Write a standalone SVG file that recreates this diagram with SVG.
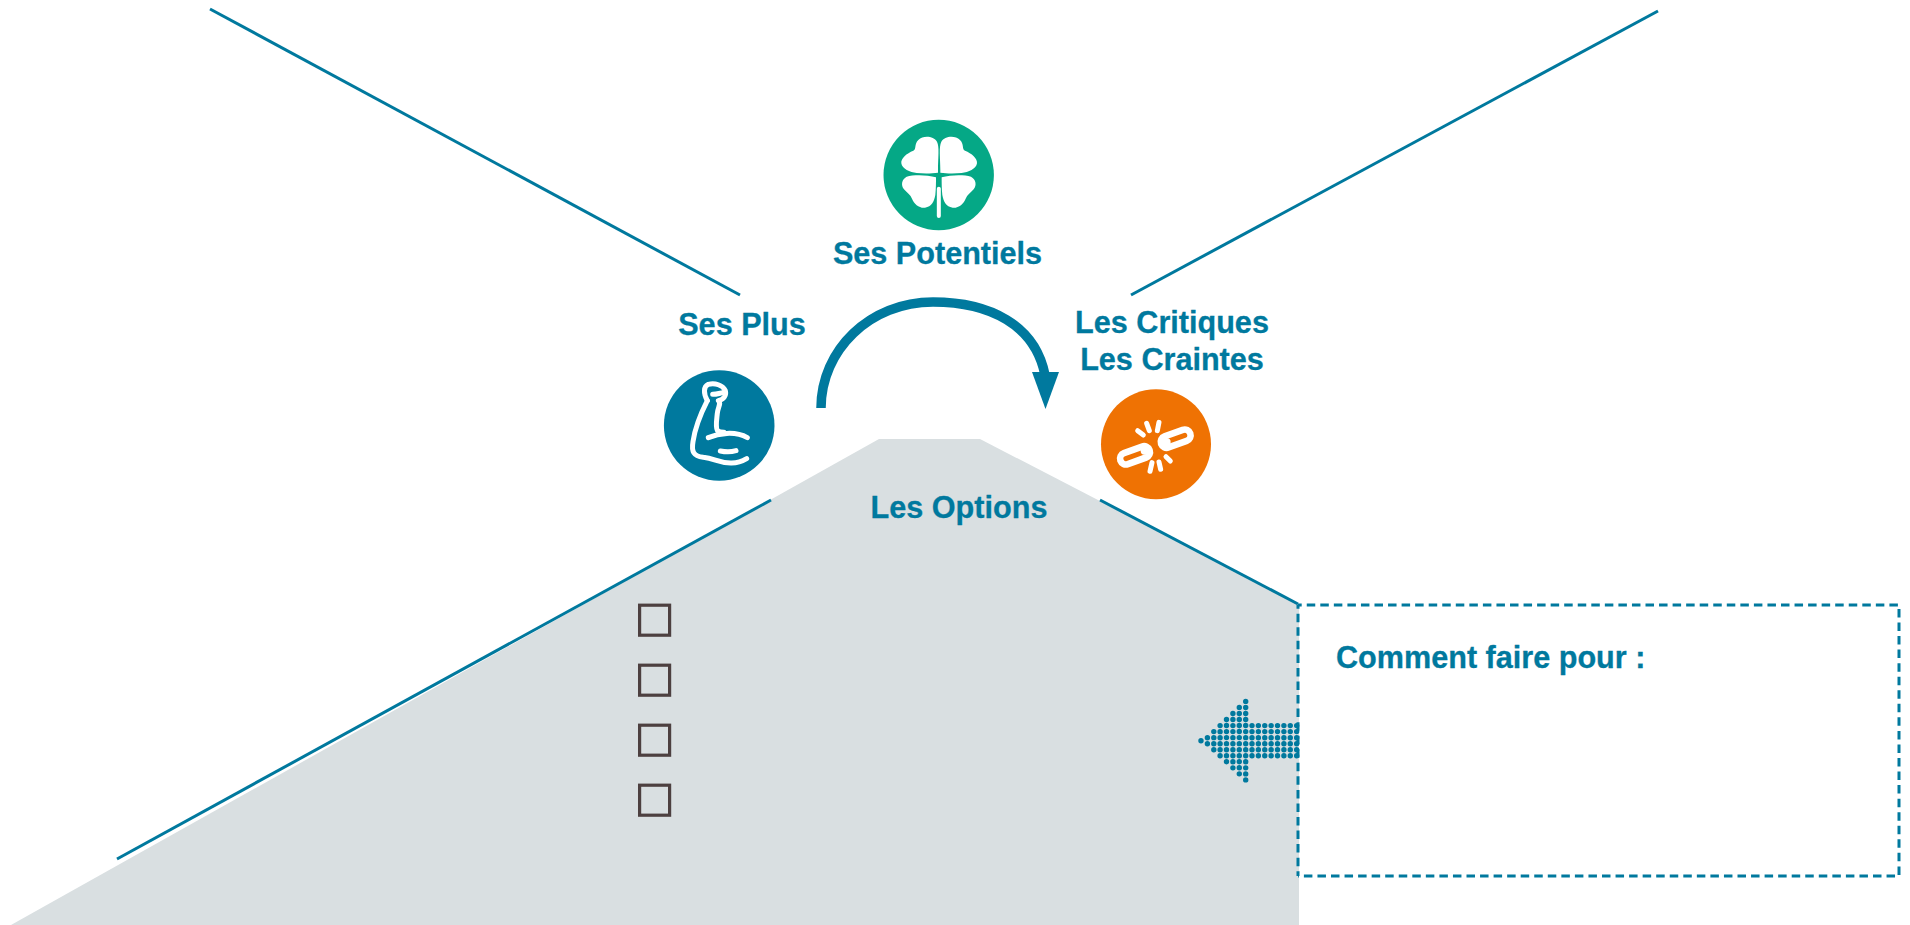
<svg xmlns="http://www.w3.org/2000/svg" width="1910" height="925" viewBox="0 0 1910 925">
<style>
.t{font-family:"Liberation Sans",Arial,sans-serif;font-weight:700;font-size:30.600px;fill:#00799e;stroke:#00799e;stroke-width:.3}
.m{text-anchor:middle}
.l{fill:none;stroke:#00799e;stroke-width:3}
.cb{fill:none;stroke:#4d4040;stroke-width:3.200}
.w{fill:none;stroke:#fff;stroke-linecap:round;stroke-linejoin:round;stroke-width:15}
.dh{fill:none;stroke:#00799e;stroke-width:5.400;stroke-linecap:round;stroke-dasharray:0 6.380}
.dv{fill:none;stroke:#00799e;stroke-width:5.400;stroke-linecap:round;stroke-dasharray:0 6.040}
.db{fill:none;stroke:#00799e;stroke-width:3;stroke-dasharray:8.500 5.050;stroke-dashoffset:4.800}
</style>
<rect width="1910" height="925" fill="#fff"/>
<polygon id="options-shape" points="11,925 879,439 980,439 1299,604 1299,925" fill="#d9dfe1"/>
<g id="connectors">
<path class="l" d="M210 9L740 295"/>
<path class="l" d="M1658 11L1131 295"/>
<path class="l" d="M117 859L771 500"/>
<path class="l" d="M1100 500L1298 604"/>
<path d="M821 408C821 350 870 302 933 302C990 302 1035 325 1045 375" fill="none" stroke="#00799e" stroke-width="9.500"/>
<polygon points="1032,372 1059,372 1045.500,409" fill="#00799e"/>
</g>
<g id="dotted-arrow">
<circle cx="1201" cy="740.700" r="2.700" fill="#00799e"/>
<path class="dv" d="M1207.400 737.700V744"/>
<path class="dv" d="M1213.800 731.600V750"/>
<path class="dv" d="M1220.100 725.600V756"/>
<path class="dv" d="M1226.500 719.500V762"/>
<path class="dv" d="M1232.900 713.500V768"/>
<path class="dv" d="M1239.300 707.400V774"/>
<path class="dv" d="M1245.700 701.400V780.200"/>
<path class="dh" d="M1252 725.600H1297"/>
<path class="dh" d="M1252 731.600H1297"/>
<path class="dh" d="M1252 737.700H1297"/>
<path class="dh" d="M1252 743.700H1297"/>
<path class="dh" d="M1252 749.800H1297"/>
<path class="dh" d="M1252 755.800H1297"/>
</g>
<g id="how-box">
<path class="db" d="M1298 605H1899V876H1298"/>
<path class="db" d="M1298 605V876"/>
<text class="t" x="1336" y="667.500">Comment faire pour :</text>
</g>
<g id="potentiels">
<circle cx="938.700" cy="175" r="55.200" fill="#05a886"/>
<g transform="translate(860 100) scale(.3333)" fill="#fff">
<path id="leaf" d="M234 210C234 175 239 140 231 125C221 108 190 105 175 120C162 132 170 148 160 152C140 160 122 175 124 190C126 207 150 217 170 219C190 221 215 221 234 218Z"/>
<use href="#leaf" transform="matrix(-1 0 0 1 475 0)"/>
<path id="leaf2" d="M228 232C200 224 160 224 140 230C125 238 122 255 132 268C140 278 152 285 156 296C162 312 178 325 195 323C215 320 222 305 226 285C228 265 228 250 228 232Z"/>
<use href="#leaf2" transform="matrix(-1 0 0 1 473 0)"/>
<path d="M236.500 266V348" stroke="#fff" stroke-width="12" stroke-linecap="round"/>
</g>
<text class="t m" x="937.500" y="264">Ses Potentiels</text>
</g>
<g id="plus">
<circle cx="719.200" cy="425.500" r="55.300" fill="#00799e"/>
<g transform="translate(650 360) scale(.3333)">
<path class="w" d="M172 122C150 165 135 205 129 245C124 275 130 288 160 292C195 295 205 310 245 309C265 309 280 302 290 296"/>
<path class="w" d="M172 122C160 100 160 80 175 73C195 68 218 75 226 92C230 105 222 118 205 122C215 130 204 140 202 160C200 180 196 200 202 211C206 216 214 217 222 217"/>
<path class="w" d="M175 233C205 220 255 212 292 233"/>
<path class="w" d="M188 103C198 103 208 100 218 98"/>
<path class="w" d="M211 273C225 276 245 276 258 272"/>
</g>
<text class="t m" x="742" y="334.500">Ses Plus</text>
</g>
<g id="critiques">
<circle cx="1156" cy="444.200" r="55" fill="#ef7203"/>
<g transform="translate(1090 380) scale(.3333)">
<rect x="88.500" y="208.500" width="93" height="35" rx="17.500" transform="rotate(-20 135 226)" fill="none" stroke="#fff" stroke-width="20"/>
<rect x="210.500" y="158.500" width="93" height="35" rx="17.500" transform="rotate(-20 257 176)" fill="none" stroke="#fff" stroke-width="20"/>
<circle cx="163" cy="213" r="11" fill="#fff"/>
<circle cx="231" cy="186" r="11" fill="#fff"/>
<path class="w" stroke-width="10" d="M143 152L160 165M170 130L178 152M207 127L202 152M228 230L241 243M207 246L212 268M186 248L180 274"/>
</g>
<text class="t m" x="1172" y="332.500">Les Critiques</text>
<text class="t m" x="1172" y="370">Les Craintes</text>
</g>
<g id="options">
<text class="t m" x="959" y="517.500">Les Options</text>
<rect class="cb" x="639.600" y="605.200" width="30" height="30"/>
<rect class="cb" x="639.600" y="665.200" width="30" height="30"/>
<rect class="cb" x="639.600" y="725.200" width="30" height="30"/>
<rect class="cb" x="639.600" y="785.200" width="30" height="30"/>
</g>
</svg>
